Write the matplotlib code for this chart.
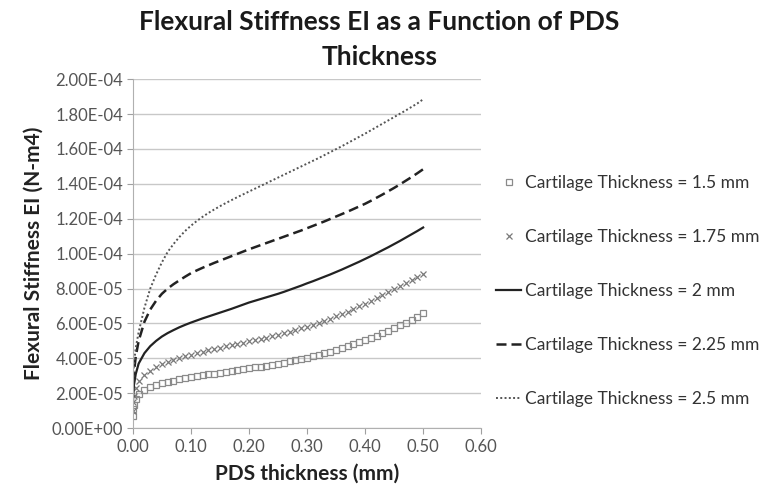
import numpy as np
import matplotlib
matplotlib.use('Agg')
import matplotlib.pyplot as plt

plt.rcParams['font.family'] = ['Lato', 'DejaVu Sans']

# --- DATOS ---
pds = [0.0, 0.001, 0.002, 0.005,
       0.01, 0.02, 0.03, 0.04, 0.05, 0.06, 0.07, 0.08, 0.09, 0.10,
       0.11, 0.12, 0.13, 0.14, 0.15, 0.16, 0.17, 0.18, 0.19, 0.20,
       0.21, 0.22, 0.23, 0.24, 0.25, 0.26, 0.27, 0.28, 0.29, 0.30,
       0.31, 0.32, 0.33, 0.34, 0.35, 0.36, 0.37, 0.38, 0.39, 0.40,
       0.41, 0.42, 0.43, 0.44, 0.45, 0.46, 0.47, 0.48, 0.49, 0.50]

# valores en unidades de 1e-5 N-m4
ei_150 = [0.70, 1.10, 1.35, 1.65,
          1.95, 2.20, 2.36, 2.48, 2.57, 2.65, 2.72, 2.79, 2.85, 2.91,
          2.97, 3.02, 3.08, 3.13, 3.18, 3.23, 3.28, 3.33, 3.38, 3.43,
          3.48, 3.53, 3.59, 3.64, 3.70, 3.76, 3.83, 3.90, 3.97, 4.05,
          4.13, 4.21, 4.30, 4.39, 4.49, 4.59, 4.70, 4.81, 4.93, 5.05,
          5.18, 5.31, 5.45, 5.59, 5.74, 5.89, 6.05, 6.21, 6.38, 6.60]

ei_175 = [1.00, 1.50, 1.85, 2.30,
          2.70, 3.05, 3.30, 3.50, 3.67, 3.80, 3.92, 4.03, 4.13, 4.22,
          4.31, 4.39, 4.47, 4.55, 4.62, 4.69, 4.76, 4.83, 4.90, 4.97,
          5.04, 5.11, 5.19, 5.27, 5.35, 5.44, 5.53, 5.62, 5.72, 5.82,
          5.93, 6.04, 6.16, 6.28, 6.41, 6.54, 6.68, 6.83, 6.98, 7.13,
          7.29, 7.45, 7.62, 7.79, 7.96, 8.14, 8.32, 8.50, 8.68, 8.85]

ei_200 = [1.40, 2.10, 2.50, 3.10,
          3.70, 4.30, 4.70, 5.00, 5.25, 5.45, 5.62, 5.78, 5.92, 6.05,
          6.17, 6.29, 6.40, 6.51, 6.62, 6.73, 6.84, 6.96, 7.08, 7.20,
          7.30, 7.40, 7.50, 7.60, 7.70, 7.81, 7.93, 8.05, 8.17, 8.30,
          8.42, 8.55, 8.68, 8.81, 8.95, 9.09, 9.24, 9.39, 9.54, 9.70,
          9.86, 10.03, 10.20, 10.37, 10.55, 10.73, 10.92, 11.11, 11.30, 11.50]

ei_225 = [1.80, 2.70, 3.20, 4.10,
          5.00, 6.10, 6.80, 7.30, 7.70, 8.00, 8.25, 8.47, 8.68, 8.88,
          9.04, 9.19, 9.33, 9.47, 9.60, 9.73, 9.86, 9.99, 10.12, 10.25,
          10.37, 10.49, 10.61, 10.73, 10.85, 10.97, 11.09, 11.21, 11.33, 11.46,
          11.59, 11.72, 11.85, 11.99, 12.13, 12.27, 12.41, 12.56, 12.71, 12.86,
          13.03, 13.21, 13.39, 13.58, 13.77, 13.97, 14.18, 14.39, 14.61, 14.84]

ei_250 = [2.20, 3.10, 3.70, 4.60,
          5.50, 6.90, 8.00, 8.80, 9.50, 10.10, 10.55, 10.95, 11.30, 11.60,
          11.87, 12.11, 12.33, 12.53, 12.72, 12.90, 13.07, 13.24, 13.40, 13.56,
          13.72, 13.88, 14.04, 14.20, 14.36, 14.52, 14.68, 14.84, 15.00, 15.16,
          15.32, 15.48, 15.65, 15.82, 15.99, 16.16, 16.34, 16.52, 16.70, 16.88,
          17.07, 17.26, 17.45, 17.64, 17.83, 18.02, 18.21, 18.41, 18.61, 18.85]

etiquetas = ['Cartilage Thickness = 1.5 mm',
             'Cartilage Thickness = 1.75 mm',
             'Cartilage Thickness = 2 mm',
             'Cartilage Thickness = 2.25 mm',
             'Cartilage Thickness = 2.5 mm']

x = np.array(pds)
esc = 1e-5

fig = plt.figure(figsize=(7.59, 4.95), dpi=100)
ax = fig.add_axes([0.175, 0.135, 0.459, 0.705])

ax.plot(x, np.array(ei_150) * esc, linestyle='none', marker='s', ms=4.5,
        mfc='none', mec='#8a8a8a', mew=0.9, label=etiquetas[0])
ax.plot(x, np.array(ei_175) * esc, linestyle='none', marker='x', ms=5,
        mec='#7a7a7a', mew=0.9, label=etiquetas[1])
ax.plot(x, np.array(ei_200) * esc, '-', color='#222222', lw=1.6, label=etiquetas[2])
ax.plot(x, np.array(ei_225) * esc, color='#222222', lw=1.8,
        linestyle=(0, (4, 2)), label=etiquetas[3])
ax.plot(x, np.array(ei_250) * esc, color='#555555', lw=1.4,
        linestyle=(0, (1, 1.2)), label=etiquetas[4])

# --- EJES ---
ax.set_xlim(0, 0.6)
ax.set_ylim(0, 2e-4)
ax.set_xticks(np.arange(0, 0.61, 0.1))
ax.set_yticks(np.arange(0, 2.01e-4, 2e-5))
ax.set_xticklabels(['%.2f' % v for v in np.arange(0, 0.61, 0.1)])
ax.set_yticklabels(['%.2E' % v for v in np.arange(0, 2.01e-4, 2e-5)])
ax.tick_params(colors='#a0a0a0', labelcolor='#555555', labelsize=12,
               length=4, width=0.8)
ax.tick_params(axis='x', pad=4)
ax.tick_params(axis='y', pad=3)

ax.grid(axis='y', color='#c8c8c8', lw=1.0)
ax.set_axisbelow(True)
for s in ['top', 'right']:
    ax.spines[s].set_visible(False)
ax.spines['left'].set_color('#b0b0b0')
ax.spines['bottom'].set_color('#b0b0b0')

ax.set_xlabel('PDS thickness (mm)', fontsize=15, fontweight='bold',
              color='#222222', labelpad=6)
ax.set_ylabel('Flexural Stiffness EI (N-m4)', fontsize=15, fontweight='bold',
              color='#222222', labelpad=6)

fig.suptitle('Flexural Stiffness EI as a Function of PDS\nThickness',
             x=0.5, y=0.98, va='top', fontsize=19, fontweight='bold',
             color='#1a1a1a', linespacing=1.55)

ax.legend(loc='center left', bbox_to_anchor=(0.633, 0.412),
          bbox_transform=fig.transFigure, frameon=False, fontsize=12.5,
          labelspacing=2.2, handlelength=1.45, handletextpad=0.2,
          labelcolor='#333333')

fig.savefig('out.png', dpi=100)
